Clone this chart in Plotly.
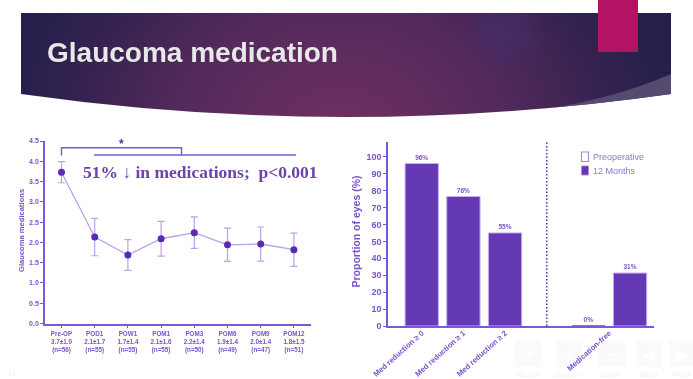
import base64
import plotly.graph_objects as go

W, H = 693, 379
# ---------- data ----------
visits = ["Pre-OP", "POD1", "POW1", "POM1", "POM3", "POM6", "POM9", "POM12"]
visit_stats = ["3.7±1.0", "2.1±1.7", "1.7±1.4", "2.1±1.6", "2.2±1.4", "1.9±1.4", "2.0±1.4", "1.8±1.5"]
visit_n = [56, 55, 55, 55, 50, 49, 47, 51]
med_mean = [3.73, 2.13, 1.69, 2.09, 2.24, 1.94, 1.96, 1.82]
med_err = [0.26, 0.46, 0.38, 0.43, 0.39, 0.41, 0.42, 0.41]

bar_labels = ["Med reduction ≥ 0", "Med reduction ≥ 1", "Med reduction ≥ 2", "Medication-free"]
bar_label_pos = [0, 1, 2, 4.5]
months12_pos = [0, 1, 2, 5]
months12_vals = [96, 76.5, 55, 31.3]
months12_text = ["96%", "76%", "55%", "31%"]
preop_pos = [4]
preop_vals = [0]
preop_text = ["0%"]
left_ticks = [0, 0.5, 1, 1.5, 2, 2.5, 3, 3.5, 4, 4.5]
right_ticks = list(range(0, 101, 10))
nav_labels = ["Reset", "Zoom +", "Zoom -", "Back", "Next"]
nav_glyphs = ["⟳", "+", "−", "◀", "▶"]
nav_left = [515, 556, 599, 636, 669]

AXIS = "#7c58d6"
TXT = "#7a52cc"
DARK = "#5b2ab0"
LIGHT = "#b9a2e6"
BAR = "#6538b4"
SANS = "Liberation Sans, Arial, sans-serif"

def px(x): return x / W
def py(y): return 1 - y / H

# ---------- banner art ----------
svg = f'''<svg xmlns="http://www.w3.org/2000/svg" width="{W}" height="{H}" viewBox="0 0 {W} {H}">
<defs>
<radialGradient id="g" gradientUnits="userSpaceOnUse" cx="340" cy="118" r="340" gradientTransform="translate(0 40) scale(1 0.8)">
<stop offset="0" stop-color="#703062"/><stop offset="0.45" stop-color="#562a5c"/><stop offset="0.8" stop-color="#332250"/><stop offset="1" stop-color="#241f4b"/>
</radialGradient>
<radialGradient id="h" gradientUnits="userSpaceOnUse" cx="504" cy="33" r="42">
<stop offset="0" stop-color="#452c66" stop-opacity="1"/><stop offset="1" stop-color="#452c66" stop-opacity="0"/>
</radialGradient>
<clipPath id="c"><path d="M21 13H671V94Q346 140 21 94Z"/></clipPath>
</defs>
<g clip-path="url(#c)">
<rect x="21" y="13" width="650" height="110" fill="url(#g)"/>
<rect x="21" y="13" width="650" height="110" fill="url(#h)"/>
<path d="M671 74Q600 105 505 114L671 120Z" fill="#574a70"/>
</g>
<rect x="598" y="0" width="40" height="52" fill="#b31363"/>
</svg>'''
uri = "data:image/svg+xml;base64," + base64.b64encode(svg.encode()).decode()

fig = go.Figure()

# ---------- left chart ----------
tick_text = [f"<b>{v}<br>{s}<br>(n={n})</b>" for v, s, n in zip(visits, visit_stats, visit_n)]
fig.add_trace(go.Scatter(
    x=list(range(len(visits))), y=med_mean, mode="lines+markers", xaxis="x", yaxis="y",
    line=dict(color=LIGHT, width=1.3), marker=dict(color=DARK, size=7),
    error_y=dict(type="data", array=med_err, color=LIGHT, thickness=1.2, width=3.5),
    showlegend=False, hoverinfo="skip"))

# ---------- right chart ----------
fig.add_trace(go.Bar(
    x=preop_pos, y=preop_vals, name="Preoperative", xaxis="x2", yaxis="y2", width=0.8,
    marker=dict(color="#ffffff", line=dict(color="#8f6bd8", width=2)),
    text=preop_text, texttemplate="<b>%{text}</b>", textposition="outside", cliponaxis=False, showlegend=False,
    textfont=dict(family=SANS, size=6.5, color=TXT), hoverinfo="skip"))
fig.add_trace(go.Bar(
    x=months12_pos, y=months12_vals, name="12 Months", xaxis="x2", yaxis="y2", width=0.8,
    marker=dict(color=BAR, line=dict(color="#c5b2ec", width=1)),
    text=months12_text, texttemplate="<b>%{text}</b>", textposition="outside", cliponaxis=False, showlegend=False,
    textfont=dict(family=SANS, size=6.5, color=TXT), hoverinfo="skip"))

shapes = [
    dict(type="line", xref="x2", yref="y2", x0=3, x1=3, y0=0, y1=109,
         line=dict(color=DARK, width=1.5, dash="1.5px,2px")),
    dict(type="path", xref="paper", yref="paper", line=dict(color="#7c58d6", width=1.4),
         path=f"M{px(61.5)},{py(155.5)}L{px(61.5)},{py(147.7)}L{px(181.5)},{py(147.7)}L{px(181.5)},{py(155)}"),
    dict(type="line", xref="paper", yref="paper", x0=px(94), x1=px(296), y0=py(155), y1=py(155),
         line=dict(color="#7c58d6", width=1.4)),
    # legend swatches
    dict(type="rect", xref="paper", yref="paper", x0=px(581.5), x1=px(588.5), y0=py(161.5), y1=py(152),
         fillcolor="#ffffff", line=dict(color="#a98ae0", width=1.2)),
    dict(type="rect", xref="paper", yref="paper", x0=px(581.5), x1=px(588.5), y0=py(175), y1=py(166),
         fillcolor=BAR, line=dict(color="#a98ae0", width=1)),
]
annotations = [
    dict(text="<b>Glaucoma medication</b>", x=px(45), y=py(53), xref="paper", yref="paper", xanchor="left",
         yanchor="middle", showarrow=False, font=dict(family=SANS, size=28, color="#e8e8e8")),
    dict(text="<b>51% ↓ in medications;  p&lt;0.001</b>", x=px(81), y=py(172), xref="paper", yref="paper",
         xanchor="left", yanchor="middle", showarrow=False,
         font=dict(family="Liberation Serif, serif", size=17.5, color="#6f42a8")),
    dict(text="<b>*</b>", x=px(121.5), y=py(144), xref="paper", yref="paper", showarrow=False,
         xanchor="center", yanchor="middle", font=dict(family=SANS, size=12, color=DARK)),
    dict(text="14", x=px(12), y=py(373), xref="paper", yref="paper", showarrow=False,
         xanchor="center", yanchor="middle", font=dict(family=SANS, size=7, color="#f1eef8")),
    dict(text="Preoperative", x=px(590.5), y=py(156.5), xref="paper", yref="paper", xanchor="left",
         yanchor="middle", showarrow=False, font=dict(family=SANS, size=9, color="#8f76cc")),
    dict(text="12 Months", x=px(590.5), y=py(170.5), xref="paper", yref="paper", xanchor="left",
         yanchor="middle", showarrow=False, font=dict(family=SANS, size=9, color="#8f76cc")),
    dict(text="<b>Glaucoma medications</b>", x=px(21), y=py(231), xref="paper", yref="paper", textangle=-90,
         xanchor="center", yanchor="middle", showarrow=False, font=dict(family=SANS, size=7.6, color=TXT)),
    dict(text="<b>Proportion of eyes (%)</b>", x=px(355), y=py(231.5), xref="paper", yref="paper", textangle=-90,
         xanchor="center", yanchor="middle", showarrow=False, font=dict(family=SANS, size=10.5, color=TXT)),
]
for label, glyph, left in zip(nav_labels, nav_glyphs, nav_left):
    shapes.append(dict(type="rect", xref="paper", yref="paper", x0=px(left), x1=px(left + 26),
                       y0=py(367), y1=py(341), line=dict(width=0), fillcolor="#fafafa", layer="below"))
    annotations.append(dict(text=glyph, x=px(left + 13), y=py(354), xref="paper", yref="paper", showarrow=False,
                            xanchor="center", yanchor="middle",
                            font=dict(family="DejaVu Sans", size=16, color="#ffffff")))
    annotations.append(dict(text=f"<b>{label}</b>", x=px(left + 13), y=py(374), xref="paper", yref="paper",
                            showarrow=False, xanchor="center", yanchor="middle",
                            font=dict(family=SANS, size=8, color="#f5f5f5")))

fig.update_layout(
    template="none", showlegend=False,
    width=W, height=H, margin=dict(l=0, r=0, t=0, b=0, pad=0), autosize=False,
    paper_bgcolor="white", plot_bgcolor="rgba(0,0,0,0)", barmode="overlay",
    images=[dict(source=uri, xref="paper", yref="paper", x=0, y=1, sizex=1, sizey=1,
                 xanchor="left", yanchor="top", sizing="stretch", layer="below")],
    shapes=shapes, annotations=annotations,
    xaxis=dict(domain=[px(45), px(311)], range=[-0.497, 7.515], tickmode="array", automargin=False,
               tickvals=list(range(len(visits))), ticktext=tick_text, showgrid=False, zeroline=False,
               showline=True, linecolor=AXIS, linewidth=1.5, ticks="outside", ticklen=3, tickcolor=AXIS,
               tickfont=dict(family=SANS, size=6.3, color=TXT), tickangle=0, anchor="y"),
    yaxis=dict(domain=[py(323.5), py(141)], range=[0, 4.5], tickmode="array", tickvals=left_ticks, automargin=False,
               ticktext=[f"<b>{v:.1f}</b>" for v in left_ticks], showgrid=False, zeroline=False,
               showline=True, linecolor=AXIS, linewidth=1.5, ticks="outside", ticklen=3, tickcolor=AXIS,
               tickfont=dict(family=SANS, size=7, color=TXT), anchor="x"),
    xaxis2=dict(domain=[px(388), px(654)], range=[-0.81, 5.575], tickmode="array", automargin=False,
                tickvals=bar_label_pos, ticktext=[f"<b>{t}</b>" for t in bar_labels], showgrid=False,
                zeroline=False, showline=True, linecolor=AXIS, linewidth=1.5, ticks="", ticklabelstandoff=-2,
                tickfont=dict(family=SANS, size=7.6, color=TXT), tickangle=-42, anchor="y2"),
    yaxis2=dict(domain=[py(326), py(141.7)], range=[0, 108.9], tickmode="array", tickvals=right_ticks, automargin=False,
                showgrid=False, zeroline=False, showline=True, linecolor=AXIS, linewidth=1.5,
                ticks="outside", ticklen=3, tickcolor=AXIS,
                ticktext=[f"<b>{v}</b>" for v in right_ticks],
                tickfont=dict(family=SANS, size=9, color=TXT), anchor="x2"),
)

fig.write_html("out.html", config={"displayModeBar": False},
               post_script="document.body.style.margin='0';document.body.style.overflow='hidden';"
                           "document.querySelector('.plotly-graph-div').style.filter='blur(0.45px)';")
